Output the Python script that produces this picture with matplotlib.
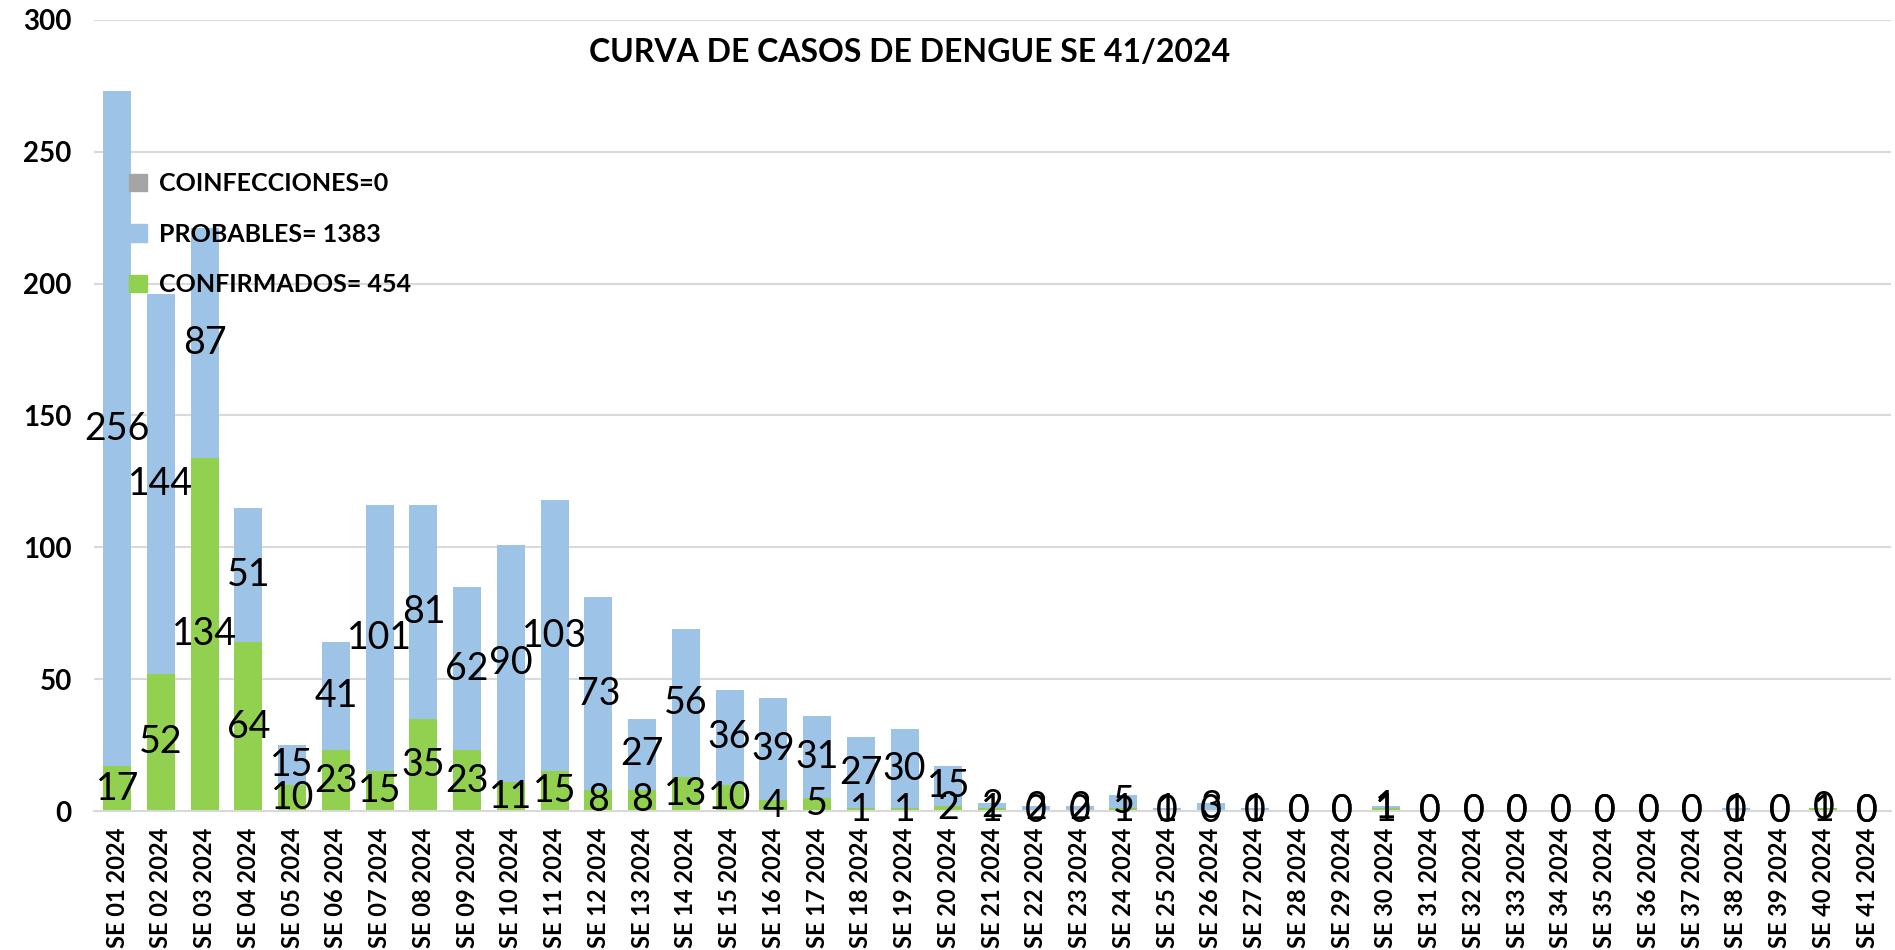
import matplotlib
matplotlib.use("Agg")
import matplotlib.pyplot as plt
from matplotlib.patches import Patch
import numpy as np

weeks = [f"SE {i:02d} 2024" for i in range(1, 42)]
confirmados = [17, 52, 134, 64, 10, 23, 15, 35, 23, 11, 15, 8, 8, 13, 10, 4, 5, 1, 1, 2,
               1, 0, 0, 1, 0, 0, 0, 0, 0, 1, 0, 0, 0, 0, 0, 0, 0, 0, 0, 1, 0]
probables = [256, 144, 87, 51, 15, 41, 101, 81, 62, 90, 103, 73, 27, 56, 36, 39, 31, 27, 30, 15,
             2, 2, 2, 5, 1, 3, 1, 0, 0, 1, 0, 0, 0, 0, 0, 0, 0, 1, 0, 0, 0]
coinfecciones = [0] * 41
legend_labels = ["COINFECCIONES=0", "PROBABLES= 1383", "CONFIRMADOS= 454"]
title = "CURVA DE CASOS DE DENGUE SE 41/2024"

c_blue = "#9DC3E6"
c_green = "#92D050"
c_grey = "#A5A5A5"

plt.rcParams['font.family'] = ['Lato', 'DejaVu Sans']

fig = plt.figure(figsize=(18.95, 9.5), dpi=100)
ax = fig.add_axes([0.0496, 0.1463, 0.9484, 0.8327])

x = np.arange(len(weeks))
conf = np.array(confirmados)
prob = np.array(probables)
coin = np.array(coinfecciones)
w = 0.64
ax.bar(x, conf, w, color=c_green, zorder=2)
ax.bar(x, prob, w, bottom=conf, color=c_blue, zorder=2)
ax.bar(x, coin, w, bottom=conf + prob, color=c_grey, zorder=2)

for i in range(len(x)):
    ax.text(x[i], conf[i] / 2, str(conf[i]), ha='center', va='center', fontsize=27, color='black', zorder=3)
    ax.text(x[i], conf[i] + prob[i] / 2, str(prob[i]), ha='center', va='center', fontsize=27, color='black', zorder=3)

ax.set_xlim(-0.53, 40.55)
ax.set_ylim(0, 300)
ax.set_yticks(range(0, 301, 50))
ax.yaxis.grid(True, color='#D9D9D9', linewidth=1.5, zorder=0)
ax.set_axisbelow(True)
for s in ['top', 'right', 'left']:
    ax.spines[s].set_visible(False)
ax.spines['bottom'].set_color('#D9D9D9')
ax.spines['bottom'].set_linewidth(1.5)
ax.set_xticks(x)
ax.set_xticklabels(weeks, rotation=90, fontsize=17, fontweight='bold')
ax.tick_params(axis='x', length=0, pad=12)
ax.tick_params(axis='y', length=0, pad=16, labelsize=20)
for lab in ax.get_yticklabels():
    lab.set_fontweight('bold')

fig.text(0.48, 0.945, title, ha='center', va='center', fontsize=23, fontweight='bold')

handles = [Patch(color=c_grey), Patch(color=c_blue), Patch(color=c_green)]
leg = ax.legend(handles, legend_labels, loc='upper left', bbox_to_anchor=(0.007, 0.836),
                frameon=False, prop={'size': 18, 'weight': 'bold'},
                handlelength=0.7, handleheight=0.7, handletextpad=0.5, labelspacing=1.1)

fig.savefig("out.png", dpi=100)
